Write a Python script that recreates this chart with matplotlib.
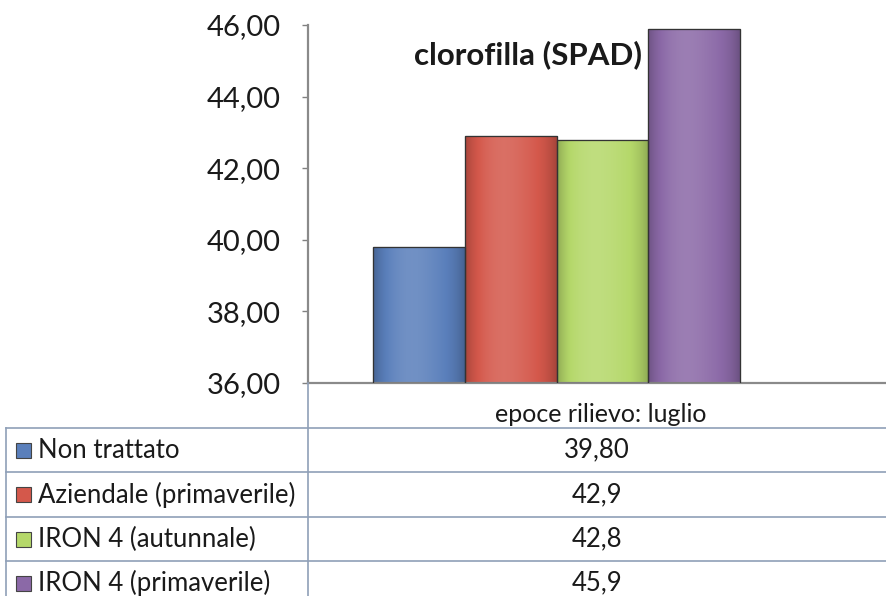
import numpy as np
import matplotlib.pyplot as plt
from matplotlib.lines import Line2D
from matplotlib.patches import Rectangle
from matplotlib.colors import to_rgb
from matplotlib.ticker import FuncFormatter, MultipleLocator

plt.rcParams['font.family'] = ['Lato', 'DejaVu Sans']

# dati
serie = ['Non trattato', 'Aziendale (primaverile)', 'IRON 4 (autunnale)', 'IRON 4 (primaverile)']
valori = [39.80, 42.9, 42.8, 45.9]
etichette_valori = ['39,80', '42,9', '42,8', '45,9']
categoria = 'epoce rilievo: luglio'
titolo = 'clorofilla (SPAD)'
colori = ['#5a7fbb', '#d4584b', '#b5d86a', '#8b69a7']

W, H = 887, 596
fig = plt.figure(figsize=(W / 100, H / 100), dpi=100)

def fx(px):
    return px / W

def fy(py):
    return 1 - py / H

# area del grafico (coordinate in pixel dell'immagine)
x0, x1 = 308, 887
y_top, y_bot = 25, 383
ax = fig.add_axes([fx(x0), fy(y_bot), fx(x1 - x0), (y_bot - y_top) / H])

pos = np.arange(len(valori)) - 1.5
barre = ax.bar(pos, valori, width=1.0, bottom=0, color=colori,
               edgecolor='#3a3a3a', linewidth=0.8, zorder=2)
ax.set_ylim(36, 46)
ax.set_xlim(-2.71, 3.6)

# sfumatura leggera stile Excel
t = np.linspace(0, 1, 64)
luce = 0.14 * np.exp(-((t - 0.42) / 0.3) ** 2) - 0.22 * (np.abs(t - 0.5) * 2) ** 4
for b, c in zip(barre, colori):
    base = np.array(to_rgb(c))
    img = np.empty((1, len(t), 3))
    for i, l in enumerate(luce):
        if l >= 0:
            img[0, i] = base + (1 - base) * l
        else:
            img[0, i] = base * (1 + l)
    im = ax.imshow(img, extent=[b.get_x(), b.get_x() + b.get_width(), 36, b.get_height()],
                   aspect='auto', zorder=2.5, interpolation='bilinear')
    im.set_clip_path(b)
    ax.add_patch(Rectangle((b.get_x(), 36), b.get_width(), b.get_height() - 36,
                           fill=False, edgecolor='#333333', linewidth=0.9, zorder=3))

ax.yaxis.set_major_locator(MultipleLocator(2))
ax.yaxis.set_major_formatter(FuncFormatter(lambda v, p: f'{v:.2f}'.replace('.', ',')))
ax.tick_params(axis='y', labelsize=21, length=4.5, width=1, color='#808080',
               labelcolor='#1a1a1a', pad=15)
ax.set_xticks([])
for s in ['top', 'right']:
    ax.spines[s].set_visible(False)
for s in ['left', 'bottom']:
    ax.spines[s].set_color('#8a8a8a')
    ax.spines[s].set_linewidth(1.6)
ax.set_autoscale_on(False)

fig.text(fx(528), fy(55), titolo, ha='center', va='center',
         fontsize=22.5, fontweight='bold', color='#1a1a1a')

# tabella dati sotto il grafico
righe_y = [428, 472, 517, 561, 605]
col_line = '#8fa0b8'
for y in righe_y:
    fig.add_artist(Line2D([fx(6), fx(887)], [fy(y), fy(y)], color=col_line, lw=1.2))
fig.add_artist(Line2D([fx(6), fx(6)], [fy(428), 0], color=col_line, lw=1.2))
fig.add_artist(Line2D([fx(308), fx(308)], [fy(383), 0], color=col_line, lw=1.2))

fig.text(fx(601), fy(414), categoria, ha='center', va='center', fontsize=18, color='#1a1a1a')

for i, (nome, lab, c) in enumerate(zip(serie, etichette_valori, colori)):
    yc = (righe_y[i] + righe_y[i + 1]) / 2
    fig.add_artist(Rectangle((fx(16), fy(yc + 7.5)), fx(15), 15 / H, facecolor=c,
                             edgecolor='#444444', linewidth=0.8, transform=fig.transFigure))
    fig.text(fx(38), fy(yc), nome, ha='left', va='center', fontsize=18.5, color='#1a1a1a')
    fig.text(fx(597), fy(yc), lab, ha='center', va='center', fontsize=18.5, color='#1a1a1a')

plt.savefig('out.png', dpi=100)
